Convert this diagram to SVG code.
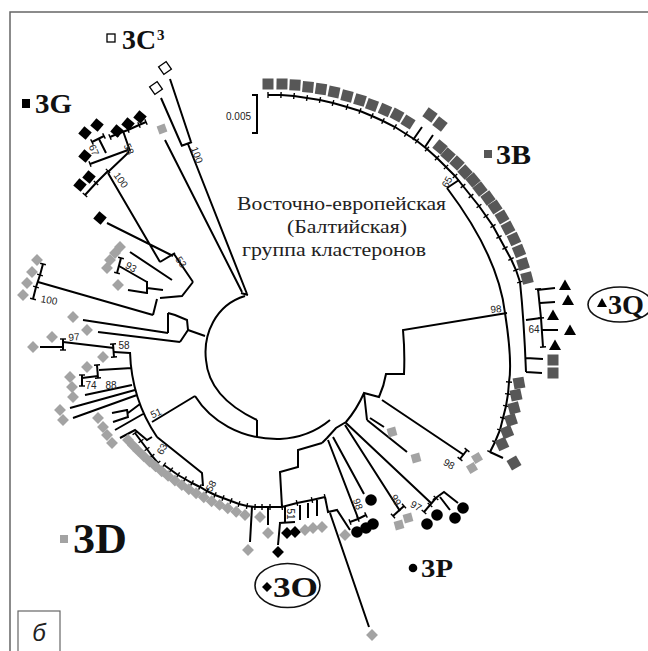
<svg xmlns="http://www.w3.org/2000/svg" xmlns:xlink="http://www.w3.org/1999/xlink" width="648" height="651" viewBox="0 0 648 651">
<style>
.e{stroke:#000;stroke-width:2;fill:none}
.tk{stroke:#000;stroke-width:2;fill:none;marker-start:url(#tick);marker-mid:url(#tick);marker-end:url(#tick)}
.lg{fill:#a3a3a3}
.dg{fill:#575757}
.bk{fill:#000}
.op{fill:#fff;stroke:#000;stroke-width:1.3}
.lab{font-family:"Liberation Serif",serif;font-weight:bold;fill:#111}
.bs{font-family:"Liberation Sans",Arial,sans-serif;font-size:10px;fill:#222}
.ct{font-family:"Liberation Serif",serif;font-size:19px;fill:#222}
</style>
<defs>
<marker id="tick" markerUnits="userSpaceOnUse" markerWidth="8" markerHeight="8" viewBox="-4 -4 8 8" refX="0" refY="0" orient="auto"><path d="M0,-3 L0,3" stroke="#000" stroke-width="1.4"/></marker>
<rect id="s" x="-5.5" y="-5.5" width="11" height="11"/>
<rect id="k" x="-4.8" y="-4.8" width="9.6" height="9.6"/>
<rect id="d" x="-4.2" y="-4.2" width="8.4" height="8.4" transform="rotate(45)"/>
<rect id="o" x="-4.6" y="-4.6" width="9.2" height="9.2"/>
<path id="t" d="M0,-5.5 L6,5 L-6,5Z"/>
<circle id="c" r="5.8"/>
</defs>
<rect width="648" height="651" fill="#fff"/>
<path d="M10,651 L10,12 L648,12" stroke="#666" stroke-width="1.5" fill="none"/>
<g id="panel-label"><rect x="18" y="611" width="42" height="42" fill="none" stroke="#666" stroke-width="1.2"/><text x="39" y="641" text-anchor="middle" font-family="Liberation Sans,sans-serif" font-style="italic" font-size="24" fill="#222">б</text></g>

<g id="edges">
<path class="e" d="M170,79 L191,142 M161,98 L182,146 M181,146 L192,142 M188,144 L247,294 M165,140 L242,292 M241,293 L248,295"/>
<polyline class="tk" points="110,137 117,134 128,130 139,125 146,122"/>
<polyline class="tk" points="92,142 104,136"/>
<path class="e" d="M99,139 L106,153 M123,131 L130,151 M129,152 L108,172 M108,173 L160,262 M107,223 L173,256 M160,262 L175,253 M174,254 L193,282"/>
<polyline class="tk" points="90,164 128,150"/>
<polyline class="tk" points="85,195 96,183 108,171"/>
<path class="e" d="M130,252 L172,280 M119,266 L147,282 M128,290 L147,293 M147,281 L147,294 M147,288 L163,290 M193,282 L182,296 L160,298 M157,299 L153,315 M38,282 L153,315"/>
<polyline class="tk" points="121,258 117,273"/>
<polyline class="tk" points="43,264 40,275 36,287 33,299"/>
<path class="e" d="M168,313 L168,333 M168,313 L175,315 L187,320 L188,330 L180,342 M188,330 L205,336 M83,320 L168,333 M98,332 L180,342"/>
<polyline class="tk" points="63,339 63,350"/>
<polyline class="tk" points="113,344 114,357"/>
<polyline class="tk" points="97,365 98,378"/>
<polyline class="tk" points="82,375 82,386"/>
<path class="e" d="M40,347 L63,347 M63,342 L114,348 M114,352 L130,353 M130,352 C131,385 140,412 157,437 M99,370 L132,368 M82,378 L98,376 M85,395 L132,385 M70,408 L135,390 M73,418 L137,395 M112,413 L127,410 M113,422 L128,417 M127,409 L128,418 M128,413 L140,404 M115,430 L143,414 M120,438 L135,430 L147,440 L152,437 M152,422 L195,396 M157,437 L202,473 L203,486"/>
<polyline class="tk" points="135,433 141,441 147,449 152,456 158,463"/>
<polyline class="tk" points="164,465 171,470 178,475 185,479 192,483 200,487 207,491 215,495 223,498 231,501 239,504 247,506 255,507 262,507 270,507 282,507 297,503 312,500 325,497"/>
<path class="e" d="M252,507 L250,542 M268,507 L268,525 M285,507 L285,523 M279,523 L295,522 M280,523 L278,545 M300,505 L300,520 M308,503 L308,518 M317,500 L317,516 M325,497 L328,512 L337,510 L350,530 M330,513 L369,627 M282,507 L280,472 L298,467 L298,450 L322,443"/>
<path class="e" d="M245,296 C215,305 203,335 206,360 C208,385 225,405 257,420 M257,420 L257,437 M195,396 C210,420 240,440 280,439 C300,438 318,430 330,420"/>
<path class="e" d="M507,313 L403,330 Q405,352 404,374 L386,374 Q384,386 379,397 L364,393 Q357,409 346,422 L336,428 L327,438 L322,443 M364,393 L367,420 M382,400 L464,455 M367,420 L407,452 M370,418 L384,427 M346,423 L431,503 M433,500 L444,492 L458,503 M440,497 L450,510 M345,425 L400,511 M333,437 L364,494 M328,440 L358,518"/>
<polyline class="tk" points="460,459 467,450"/>
<polyline class="tk" points="424,512 430,505 436,498"/>
<polyline class="tk" points="393,516 404,506"/>
<polyline class="tk" points="350,522 358,519 366,515"/>
<polyline class="tk" points="268,95 281,95 294,96 307,98 320,100 333,103 347,107 360,111 372,116 383,121 395,127 406,134 417,141 427,149 437,158 446,167 455,176 463,186 471,196 479,206 486,216 493,226 499,237 505,248 511,259 516,270 520,282"/>
<path class="e" d="M520,282 Q524,320 526,372 M526,320 L541,318 M537,290 L555,288 M540,303 L555,302 M542,330 L558,330 M526,358 L543,359 M526,372 L542,373 M447,188 L459,180 M447,188 C475,225 500,270 505,313 C510,345 511,370 509,382 M490,452 L503,458 M413,140 L422,127 M425,147 L433,135"/>
<polyline class="tk" points="538,289 541,318 543,347"/>
<polyline class="tk" points="509,382 508,394 506,406 503,418 500,430 495,442 490,452"/>
<path class="e" d="M252,95 L257,95 L257,133 L252,133"/>
</g>

<g id="scale"><text class="bs" x="226" y="120">0.005</text></g>

<g id="center-caption">
<text class="ct" x="237" y="210" textLength="209" lengthAdjust="spacingAndGlyphs">Восточно-европейская</text>
<text class="ct" x="287" y="233" textLength="120" lengthAdjust="spacingAndGlyphs">(Балтийская)</text>
<text class="ct" x="242" y="256" textLength="184" lengthAdjust="spacingAndGlyphs">группа кластеронов</text>
</g>

<g id="bootstrap" class="bs">
<text transform="translate(197,155) rotate(70)" text-anchor="middle" dy="3.5">100</text>
<text transform="translate(94,150) rotate(65)" text-anchor="middle" dy="3.5">67</text>
<text transform="translate(129,149) rotate(65)" text-anchor="middle" dy="3.5">58</text>
<text transform="translate(121,180) rotate(55)" text-anchor="middle" dy="3.5">100</text>
<text transform="translate(181,262) rotate(55)" text-anchor="middle" dy="3.5">53</text>
<text transform="translate(131,267) rotate(30)" text-anchor="middle" dy="3.5">93</text>
<text transform="translate(49,300) rotate(10)" text-anchor="middle" dy="3.5">100</text>
<text transform="translate(74,337) rotate(-5)" text-anchor="middle" dy="3.5">97</text>
<text transform="translate(124,345)" text-anchor="middle" dy="3.5">58</text>
<text x="91" y="389" text-anchor="middle">74</text>
<text x="111" y="389" text-anchor="middle">88</text>
<text transform="translate(156,413) rotate(-25)" text-anchor="middle" dy="3.5">51</text>
<text transform="translate(162,449) rotate(-60)" text-anchor="middle" dy="3.5">63</text>
<text transform="translate(211,486) rotate(-60)" text-anchor="middle" dy="3.5">58</text>
<text transform="translate(290,514) rotate(90)" text-anchor="middle" dy="3.5">51</text>
<text transform="translate(358,504) rotate(70)" text-anchor="middle" dy="3.5">98</text>
<text transform="translate(396,500) rotate(60)" text-anchor="middle" dy="3.5">99</text>
<text transform="translate(416,506) rotate(30)" text-anchor="middle" dy="3.5">97</text>
<text transform="translate(449,464) rotate(30)" text-anchor="middle" dy="3.5">98</text>
<text transform="translate(496,309) rotate(-5)" text-anchor="middle" dy="3.5">98</text>
<text x="534" y="333" text-anchor="middle">64</text>
<text transform="translate(447,182) rotate(-60)" text-anchor="middle" dy="3.5">65</text>
</g>

<g id="clade-3C">
<use href="#o" class="op" transform="translate(165,68) rotate(-35)"/>
<use href="#o" class="op" transform="translate(156,88) rotate(-35)"/>
<rect class="op" x="107" y="34" width="8" height="8"/>
<text class="lab" x="122" y="49" font-size="27" textLength="34" lengthAdjust="spacingAndGlyphs">3C</text>
<text class="lab" x="157" y="40" font-size="15">3</text>
</g>

<g id="clade-3G" class="bk">
<use href="#k" transform="translate(85,133) rotate(40)"/>
<use href="#k" transform="translate(97,125) rotate(40)"/>
<use href="#k" transform="translate(117,131) rotate(40)"/>
<use href="#k" transform="translate(128,124) rotate(40)"/>
<use href="#k" transform="translate(140,117) rotate(40)"/>
<use href="#k" transform="translate(85,156) rotate(40)"/>
<use href="#k" transform="translate(80,185) rotate(40)"/>
<use href="#k" transform="translate(89,177) rotate(40)"/>
<use href="#k" transform="translate(100,218) rotate(40)"/>
<rect x="22" y="99" width="8" height="9"/>
<text class="lab" x="35" y="113" font-size="27" textLength="37" lengthAdjust="spacingAndGlyphs">3G</text>
</g>

<g id="clade-3B" class="dg">
<use href="#s" transform="translate(268,84)"/>
<use href="#s" transform="translate(282,84) rotate(1)"/>
<use href="#s" transform="translate(295,85) rotate(3)"/>
<use href="#s" transform="translate(308,87) rotate(5)"/>
<use href="#s" transform="translate(321,89) rotate(8)"/>
<use href="#s" transform="translate(334,92) rotate(11)"/>
<use href="#s" transform="translate(347,96) rotate(14)"/>
<use href="#s" transform="translate(360,100) rotate(17)"/>
<use href="#s" transform="translate(372,105) rotate(20)"/>
<use href="#s" transform="translate(385,110) rotate(24)"/>
<use href="#s" transform="translate(397,115) rotate(28)"/>
<use href="#s" transform="translate(408,122) rotate(32)"/>
<use href="#s" transform="translate(430,115) rotate(35)"/>
<use href="#s" transform="translate(440,124) rotate(38)"/>
<use href="#s" transform="translate(440,147) rotate(40)"/>
<use href="#s" transform="translate(448,155) rotate(42)"/>
<use href="#s" transform="translate(457,163) rotate(44)"/>
<use href="#s" transform="translate(465,172) rotate(47)"/>
<use href="#s" transform="translate(473,180) rotate(50)"/>
<use href="#s" transform="translate(480,189) rotate(52)"/>
<use href="#s" transform="translate(488,198) rotate(54)"/>
<use href="#s" transform="translate(495,207) rotate(57)"/>
<use href="#s" transform="translate(502,217) rotate(60)"/>
<use href="#s" transform="translate(508,228) rotate(62)"/>
<use href="#s" transform="translate(514,239) rotate(65)"/>
<use href="#s" transform="translate(519,251) rotate(68)"/>
<use href="#s" transform="translate(523,264) rotate(72)"/>
<use href="#s" transform="translate(527,278) rotate(75)"/>
<use href="#s" transform="translate(553,360)"/>
<use href="#s" transform="translate(553,373)"/>
<use href="#s" transform="translate(519,383) rotate(-10)"/>
<use href="#s" transform="translate(516,395) rotate(-12)"/>
<use href="#s" transform="translate(514,408) rotate(-15)"/>
<use href="#s" transform="translate(511,420) rotate(-18)"/>
<use href="#s" transform="translate(507,432) rotate(-22)"/>
<use href="#s" transform="translate(502,444) rotate(-25)"/>
<use href="#s" transform="translate(514,463) rotate(-30)"/>
<rect x="484" y="150" width="8" height="8"/>
<text class="lab" x="496" y="164" font-size="27" fill="#111" textLength="35" lengthAdjust="spacingAndGlyphs">3B</text>
</g>

<g id="clade-3Q" class="bk">
<use href="#t" transform="translate(565,285)"/>
<use href="#t" transform="translate(568,300)"/>
<use href="#t" transform="translate(553,315)"/>
<use href="#t" transform="translate(570,330)"/>
<use href="#t" transform="translate(555,345)"/>
<ellipse cx="620" cy="304.5" rx="32" ry="17.5" fill="none" stroke="#111" stroke-width="1.6"/>
<path d="M602,298 L607,307 L597,307Z"/>
<text class="lab" x="608" y="314" font-size="27" textLength="36" lengthAdjust="spacingAndGlyphs">3Q</text>
</g>

<g id="clade-3P" class="bk">
<use href="#c" transform="translate(371,500)"/>
<use href="#c" transform="translate(357,532)"/>
<use href="#c" transform="translate(366,528)"/>
<use href="#c" transform="translate(373,524)"/>
<use href="#c" transform="translate(427,524)"/>
<use href="#c" transform="translate(437,515)"/>
<use href="#c" transform="translate(455,518)"/>
<use href="#c" transform="translate(463,508)"/>
<circle cx="413" cy="568" r="4.3"/>
<text class="lab" x="421" y="577" font-size="26" textLength="32" lengthAdjust="spacingAndGlyphs">3P</text>
</g>

<g id="clade-3O" class="bk">
<use href="#d" transform="translate(287,533)"/>
<use href="#d" transform="translate(295,532)"/>
<use href="#d" transform="translate(278,552)"/>
<ellipse cx="287.5" cy="585.5" rx="32.5" ry="22" fill="none" stroke="#111" stroke-width="1.6"/>
<path d="M267,582 L272,587 L267,592 L262,587Z"/>
<text class="lab" x="273" y="597" font-size="30" textLength="45" lengthAdjust="spacingAndGlyphs">3O</text>
</g>

<g id="clade-3D" class="lg">
<use href="#d" transform="translate(162,129) rotate(-65)"/>
<use href="#d" transform="translate(120,247)"/>
<use href="#d" transform="translate(115,253)"/>
<use href="#d" transform="translate(110,260)"/>
<use href="#d" transform="translate(107,268)"/>
<use href="#d" transform="translate(118,285)"/>
<use href="#d" transform="translate(37,260)"/>
<use href="#d" transform="translate(32,272)"/>
<use href="#d" transform="translate(27,283)"/>
<use href="#d" transform="translate(23,295)"/>
<use href="#d" transform="translate(33,347)"/>
<use href="#d" transform="translate(52,337)"/>
<use href="#d" transform="translate(73,317)"/>
<use href="#d" transform="translate(87,330)"/>
<use href="#d" transform="translate(103,357)"/>
<use href="#d" transform="translate(87,367)"/>
<use href="#d" transform="translate(70,377)"/>
<use href="#d" transform="translate(72,387)"/>
<use href="#d" transform="translate(73,397)"/>
<use href="#d" transform="translate(60,410)"/>
<use href="#d" transform="translate(63,420)"/>
<use href="#d" transform="translate(98,418)"/>
<use href="#d" transform="translate(103,427)"/>
<use href="#d" transform="translate(107,435)"/>
<use href="#d" transform="translate(112,443)"/>
<use href="#d" transform="translate(128,440)"/>
<use href="#d" transform="translate(133,445.6)"/>
<use href="#d" transform="translate(138.3,450.9)"/>
<use href="#d" transform="translate(143.8,456.3)"/>
<use href="#d" transform="translate(149.6,461.5)"/>
<use href="#d" transform="translate(155.6,466.4)"/>
<use href="#d" transform="translate(161.7,471.3)"/>
<use href="#d" transform="translate(168.1,475.9)"/>
<use href="#d" transform="translate(174.9,480.6)"/>
<use href="#d" transform="translate(181.8,485.1)"/>
<use href="#d" transform="translate(188.8,489.2)"/>
<use href="#d" transform="translate(196.1,493.3)"/>
<use href="#d" transform="translate(203.8,497.3)"/>
<use href="#d" transform="translate(211.6,501.3)"/>
<use href="#d" transform="translate(219.6,504.9)"/>
<use href="#d" transform="translate(227.8,508.3)"/>
<use href="#d" transform="translate(236.2,511.7)"/>
<use href="#d" transform="translate(245,515)"/>
<use href="#d" transform="translate(260,517)"/>
<use href="#d" transform="translate(268,533)"/>
<use href="#d" transform="translate(248,550)"/>
<use href="#d" transform="translate(305,530)"/>
<use href="#d" transform="translate(313,528)"/>
<use href="#d" transform="translate(322,527)"/>
<use href="#d" transform="translate(345,535)"/>
<use href="#d" transform="translate(372,635)"/>
<use href="#s" transform="translate(392,432) rotate(-15) scale(0.8)"/>
<use href="#s" transform="translate(416,458) rotate(-15) scale(0.8)"/>
<use href="#s" transform="translate(399,525) rotate(-15) scale(0.8)"/>
<use href="#s" transform="translate(408,518) rotate(-15) scale(0.8)"/>
<use href="#s" transform="translate(477,458) rotate(-30) scale(0.8)"/>
<use href="#s" transform="translate(472,468) rotate(-30) scale(0.8)"/>
<rect x="60" y="535" width="8" height="8"/>
<text class="lab" x="73" y="553" font-size="42" fill="#111" textLength="54" lengthAdjust="spacingAndGlyphs">3D</text>
</g>
</svg>
